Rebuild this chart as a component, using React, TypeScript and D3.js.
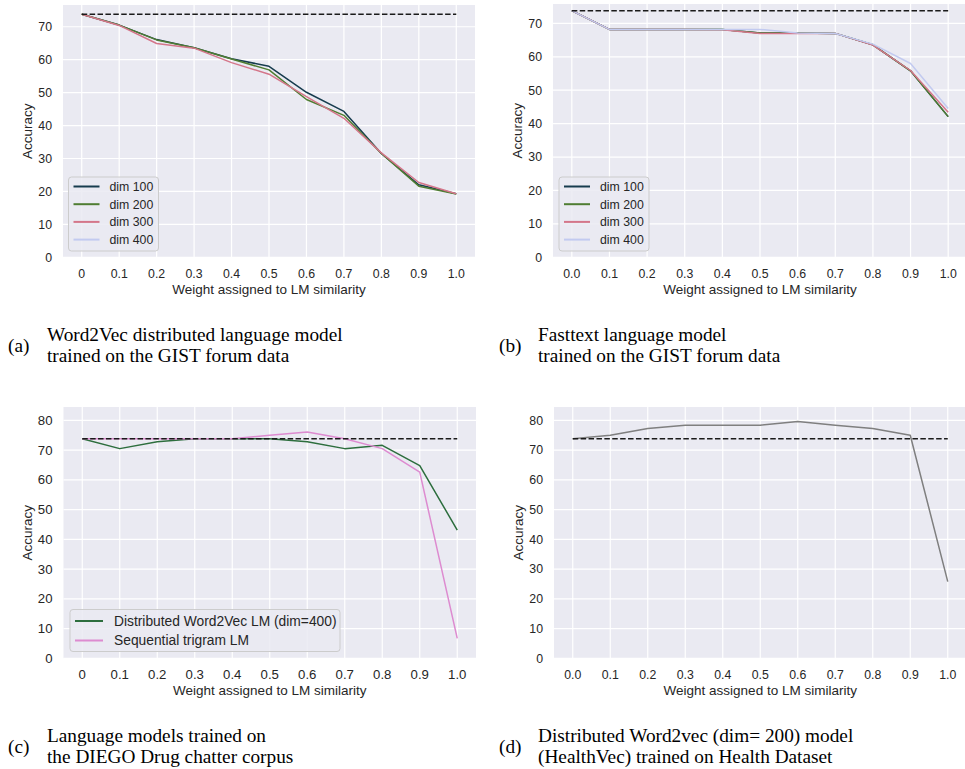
import React from "react";
import * as d3 from "d3";

const weights = [0, 0.1, 0.2, 0.3, 0.4, 0.5, 0.6, 0.7, 0.8, 0.9, 1.0];
const xLabelsA = ["0", "0.1", "0.2", "0.3", "0.4", "0.5", "0.6", "0.7", "0.8", "0.9", "1.0"];
const xLabelsB = ["0.0", "0.1", "0.2", "0.3", "0.4", "0.5", "0.6", "0.7", "0.8", "0.9", "1.0"];
const yTicks70 = [0, 10, 20, 30, 40, 50, 60, 70];
const yTicks80 = [0, 10, 20, 30, 40, 50, 60, 70, 80];
const baselineAcc = 73.8;

// (a) Word2Vec on GIST
const w2vDim100 = [73.8, 70.5, 66.1, 63.6, 60.3, 58.0, 50.1, 44.3, 31.5, 22.0, 19.3];
const w2vDim200 = [73.8, 70.5, 66.0, 63.6, 60.2, 56.9, 47.9, 43.1, 31.5, 21.6, 19.2];
const w2vDim300 = [73.8, 70.4, 64.9, 63.5, 59.1, 55.6, 48.8, 42.2, 31.7, 22.7, 19.3];
const w2vDim400: number[] = [];

// (b) Fasttext on GIST
const ftDim100 = [73.8, 68.2, 68.2, 68.2, 68.2, 67.1, 67.1, 67.0, 63.6, 55.8, 42.1];
const ftDim200 = [73.8, 68.2, 68.2, 68.2, 68.2, 67.1, 67.1, 67.0, 63.6, 55.8, 42.1];
const ftDim300 = [73.8, 68.2, 68.2, 68.2, 68.1, 67.0, 67.0, 67.0, 63.5, 55.9, 43.4];
const ftDim400 = [73.8, 68.2, 68.2, 68.2, 68.2, 68.2, 67.1, 67.0, 63.8, 58.0, 44.5];

// (c) DIEGO
const diegoW2v = [73.8, 70.5, 72.8, 73.8, 73.8, 73.8, 72.8, 70.5, 71.6, 64.8, 43.1];
const diegoTrigram = [73.8, 73.8, 73.8, 73.8, 73.8, 75.0, 76.1, 73.8, 70.5, 62.6, 6.7];

// (d) HealthVec
const healthVec = [73.8, 75.0, 77.3, 78.4, 78.4, 78.4, 79.6, 78.4, 77.3, 75.0, 25.8];

const dimNames = ["dim 100", "dim 200", "dim 300", "dim 400"];
const dimColors = ["#173c4e", "#4f7d32", "#d4768a", "#c2caf0"];
const diegoNames = ["Distributed Word2Vec LM (dim=400)", "Sequential trigram LM"];
const diegoColors = ["#2d6e3e", "#dd8bd0"];

const SANS = "'Liberation Sans', Arial, sans-serif";
const SERIF = "'Liberation Serif', 'Times New Roman', serif";
const TXT = "#262626";

type Series = { name: string; values: number[]; color: string };

interface LegendSpec {
  x: number; y: number; w: number; h: number; items: Series[]; lineLen: number;
  font: number; first: number; step: number; gap: number;
}

interface PanelProps {
  x0: number; x1: number; y0: number; y1: number;
  yMax: number; yTicks: number[]; xLabels: string[];
  series: Series[];
  tickFont: number;
  legend?: LegendSpec;
  clipId: string;
}

function Panel(p: PanelProps) {
  const x = d3.scaleLinear().domain([-0.05, 1.05]).range([p.x0, p.x1]);
  const y = d3.scaleLinear().domain([0, p.yMax]).range([p.y1, p.y0]);
  const line = d3
    .line<number>()
    .defined((v) => v != null)
    .x((_, i) => x(weights[i]))
    .y((v) => y(v));
  const base = weights.map(() => baselineAcc);
  const cxLabel = (p.x0 + p.x1) / 2;
  const lg = p.legend;
  return (
    <g>
      <defs>
        <clipPath id={p.clipId}>
          <rect x={p.x0} y={p.y0} width={p.x1 - p.x0} height={p.y1 - p.y0} />
        </clipPath>
      </defs>
      <rect x={p.x0} y={p.y0} width={p.x1 - p.x0} height={p.y1 - p.y0} fill="#eaeaf2" />
      {p.yTicks.map((t) => (
        <line key={"gy" + t} x1={p.x0} x2={p.x1} y1={y(t)} y2={y(t)} stroke="#fff" strokeWidth={1.2} />
      ))}
      {weights.map((w) => (
        <line key={"gx" + w} x1={x(w)} x2={x(w)} y1={p.y0} y2={p.y1} stroke="#fff" strokeWidth={1.2} />
      ))}
      <g clipPath={`url(#${p.clipId})`}>
        {p.series.map((s) =>
          s.values.length ? (
            <path key={s.name} d={line(s.values) || ""} fill="none" stroke={s.color} strokeWidth={1.5} strokeLinejoin="round" />
          ) : null
        )}
        <path d={line(base) || ""} fill="none" stroke="#1a1a1a" strokeWidth={1.5} strokeDasharray="5.5,2.4" />
      </g>
      {p.yTicks.map((t) => (
        <text key={"ty" + t} x={p.x0 - 11} y={y(t)} dy="0.35em" textAnchor="end" fontFamily={SANS} fontSize={p.tickFont} fill={TXT}>
          {t}
        </text>
      ))}
      {weights.map((w, i) => (
        <text key={"tx" + w} x={x(w)} y={p.y1 + 20.5} textAnchor="middle" fontFamily={SANS} fontSize={p.tickFont} fill={TXT}>
          {p.xLabels[i]}
        </text>
      ))}
      <text x={cxLabel} y={p.y1 + 36.5} textAnchor="middle" fontFamily={SANS} fontSize={13.5} fill={TXT}>
        Weight assigned to LM similarity
      </text>
      <text
        transform={`translate(${p.x0 - 36},${(p.y0 + p.y1) / 2}) rotate(-90)`}
        textAnchor="middle"
        dy="0.35em"
        fontFamily={SANS}
        fontSize={13.5}
        fill={TXT}
      >
        Accuracy
      </text>
      {lg && (
        <g>
          <rect x={lg.x} y={lg.y} width={lg.w} height={lg.h} rx={3} fill="#eaeaf2" fillOpacity={0.85} stroke="#cccccc" strokeWidth={1} />
          {lg.items.map((s, i) => {
            const ry = lg.y + lg.first + i * lg.step;
            return (
              <g key={"lg" + s.name}>
                <line x1={lg.x + 5} x2={lg.x + 5 + lg.lineLen} y1={ry} y2={ry} stroke={s.color} strokeWidth={2} />
                <text x={lg.x + 5 + lg.lineLen + lg.gap} y={ry} dy="0.35em" fontFamily={SANS} fontSize={lg.font} fill={TXT}>
                  {s.name}
                </text>
              </g>
            );
          })}
        </g>
      )}
    </g>
  );
}

function Caption({ x, y, tag, lines }: { x: number; y: number; tag: string; lines: string[] }) {
  return (
    <g fontFamily={SERIF} fontSize={19.3} fill="#000">
      <text x={x} y={y + 17}>{tag}</text>
      <text x={x + 39} y={y + 6}>{lines[0]}</text>
      <text x={x + 39} y={y + 27}>{lines[1]}</text>
    </g>
  );
}

export default function App() {
  const mk = (names: string[], colors: string[], vals: number[][]) =>
    vals.map((v, i) => ({ name: names[i], values: v, color: colors[i] }));
  const aSeries = mk(dimNames, dimColors, [w2vDim100, w2vDim200, w2vDim300, w2vDim400]);
  const bSeries = mk(dimNames, dimColors, [ftDim100, ftDim200, ftDim300, ftDim400]);
  const cSeries = mk(diegoNames, diegoColors, [diegoW2v, diegoTrigram]);
  const dSeries = [{ name: "HealthVec", values: healthVec, color: "#7f7f7f" }];
  return (
    <svg width={965} height={769} style={{ position: "absolute", left: 0, top: 0, background: "#fff" }}>
      <Panel
        clipId="ca" x0={63} x1={475} y0={5} y1={257.3} yMax={76.6} yTicks={yTicks70} xLabels={xLabelsA}
        series={aSeries} tickFont={12.3}
        legend={{ x: 68.5, y: 177, w: 90, h: 74, items: aSeries, lineLen: 26, font: 12.3, first: 9.5, step: 17.7, gap: 10 }}
      />
      <Panel
        clipId="cb" x0={553} x1={967} y0={4} y1={257.3} yMax={75.8} yTicks={yTicks70} xLabels={xLabelsB}
        series={bSeries} tickFont={12.3}
        legend={{ x: 559, y: 177, w: 90, h: 74, items: bSeries, lineLen: 26, font: 12.3, first: 9.5, step: 17.7, gap: 10 }}
      />
      <Panel
        clipId="cc" x0={63.5} x1={476} y0={407} y1={658.3} yMax={84.5} yTicks={yTicks80} xLabels={xLabelsA}
        series={cSeries} tickFont={13.2}
        legend={{ x: 70, y: 609.5, w: 270, h: 42, items: cSeries, lineLen: 28, font: 13.8, first: 11.5, step: 19.5, gap: 11 }}
      />
      <Panel
        clipId="cd" x0={554} x1={966.5} y0={407} y1={658.3} yMax={84.5} yTicks={yTicks80} xLabels={xLabelsB}
        series={dSeries} tickFont={12.3}
      />
      <Caption x={8} y={335} tag="(a)" lines={["Word2Vec distributed language model", "trained on the GIST forum data"]} />
      <Caption x={499} y={335} tag="(b)" lines={["Fasttext language model", "trained on the GIST forum data"]} />
      <Caption x={8} y={736} tag="(c)" lines={["Language models trained on", "the DIEGO Drug chatter corpus"]} />
      <Caption x={499} y={736} tag="(d)" lines={["Distributed Word2vec (dim= 200) model", "(HealthVec) trained on Health Dataset"]} />
    </svg>
  );
}
